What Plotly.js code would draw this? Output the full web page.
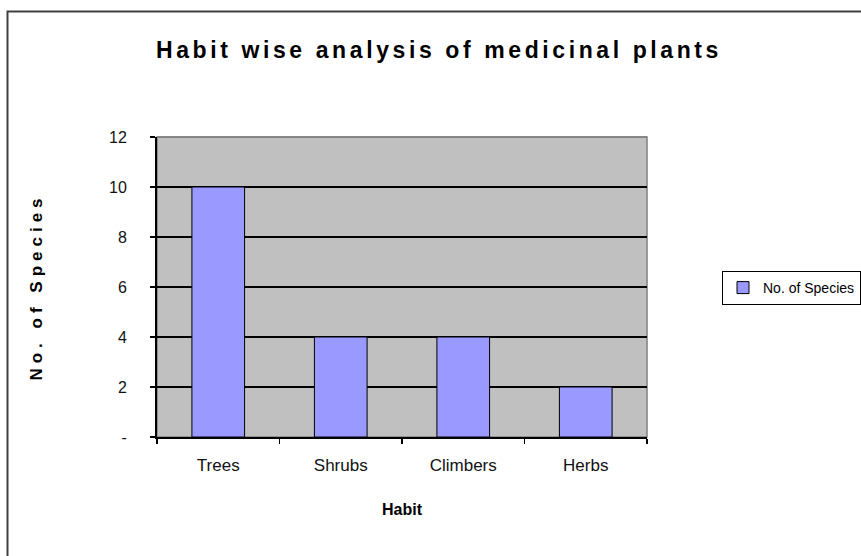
<!DOCTYPE html>
<html>
<head>
<meta charset="utf-8">
<script src="https://cdn.plot.ly/plotly-3.0.1.min.js"></script>
<style>
html,body{margin:0;padding:0;background:#fff;}
#chart{width:861px;height:556px;}
#chart .gtitle{letter-spacing:3.6px;}
#chart .ytitle{letter-spacing:5px;}
</style>
</head>
<body>
<div id="chart"></div>
<script>
const categories = ["Trees", "Shrubs", "Climbers", "Herbs"];
const speciesCounts = [10, 4, 4, 2];
const seriesName = "No. of Species";
const yTickVals = [0, 2, 4, 6, 8, 10, 12];
const yTickText = ["-", "2", "4", "6", "8", "10", "12"];

const FONT = "Arial, 'Liberation Sans', sans-serif";

const trace = {
  type: "bar",
  x: categories,
  y: speciesCounts,
  name: seriesName,
  marker: {color: "#9999FF", line: {color: "#000000", width: 1}},
  width: 0.43,
  showlegend: true
};

const L = 157, R = 647, T = 137, B = 437;
const pw = R - L, ph = B - T;
function px(x){ return (x - L) / pw; }
function py(y){ return (B - y) / ph; }

const layout = {
  width: 861, height: 556,
  margin: {l: L, r: 861 - R, t: T, b: 556 - B, pad: 0, autoexpand: false},
  paper_bgcolor: "#FFFFFF",
  plot_bgcolor: "#C0C0C0",
  font: {family: FONT, size: 17, color: "#000"},
  title: {
    text: "<b>Habit wise analysis of medicinal plants</b>",
    font: {family: FONT, size: 23, color: "#000"},
    x: 439 / 861, xanchor: "center", xref: "container",
    y: 1 - 50 / 556, yanchor: "middle", yref: "container"
  },
  xaxis: {
    type: "category",
    tickson: "boundaries",
    ticks: "outside", ticklen: 5, tickwidth: 1.5, tickcolor: "#000",
    showline: true, linecolor: "#000", linewidth: 2,
    showgrid: false, zeroline: false,
    tickfont: {family: FONT, size: 17, color: "#111"},
    ticklabelstandoff: 12,
    automargin: false,
    title: {text: "<b>Habit</b>", font: {family: FONT, size: 16, color: "#000"}, standoff: 29},
    fixedrange: true
  },
  yaxis: {
    range: [0, 12],
    tickvals: yTickVals, ticktext: yTickText,
    ticks: "outside", ticklen: 5, tickwidth: 1.5, tickcolor: "#000",
    showline: true, linecolor: "#000", linewidth: 2,
    showgrid: true, gridcolor: "#000", gridwidth: 1.5,
    zeroline: false,
    tickfont: {family: FONT, size: 16, color: "#111"},
    ticklabelstandoff: 20,
    automargin: false,
    title: {text: "<b>No. of Species</b>", font: {family: FONT, size: 17, color: "#000"}, standoff: 62},
    fixedrange: true
  },
  showlegend: true,
  legend: {
    x: px(722), xanchor: "left", xref: "paper",
    y: py(288), yanchor: "middle", yref: "paper",
    bordercolor: "#000", borderwidth: 1,
    bgcolor: "#FFFFFF",
    font: {family: FONT, size: 14, color: "#000"},
    itemwidth: 30,
    tracegroupgap: 0
  },
  shapes: [
    {type: "rect", xref: "paper", yref: "paper", x0: 0, x1: 1, y0: 0, y1: 1,
     line: {color: "#808080", width: 1.5}, layer: "below"},
    {type: "line", xref: "paper", yref: "paper", x0: 0, x1: 1, y0: 1, y1: 1,
     line: {color: "#808080", width: 1.5}, layer: "above"},
    {type: "rect", xref: "paper", yref: "paper",
     x0: px(7.5), x1: px(900), y0: py(11.5), y1: py(600),
     line: {color: "#404040", width: 2}, layer: "below"}
  ]
};

Plotly.newPlot("chart", [trace], layout, {displayModeBar: false, staticPlot: true});
</script>
</body>
</html>
